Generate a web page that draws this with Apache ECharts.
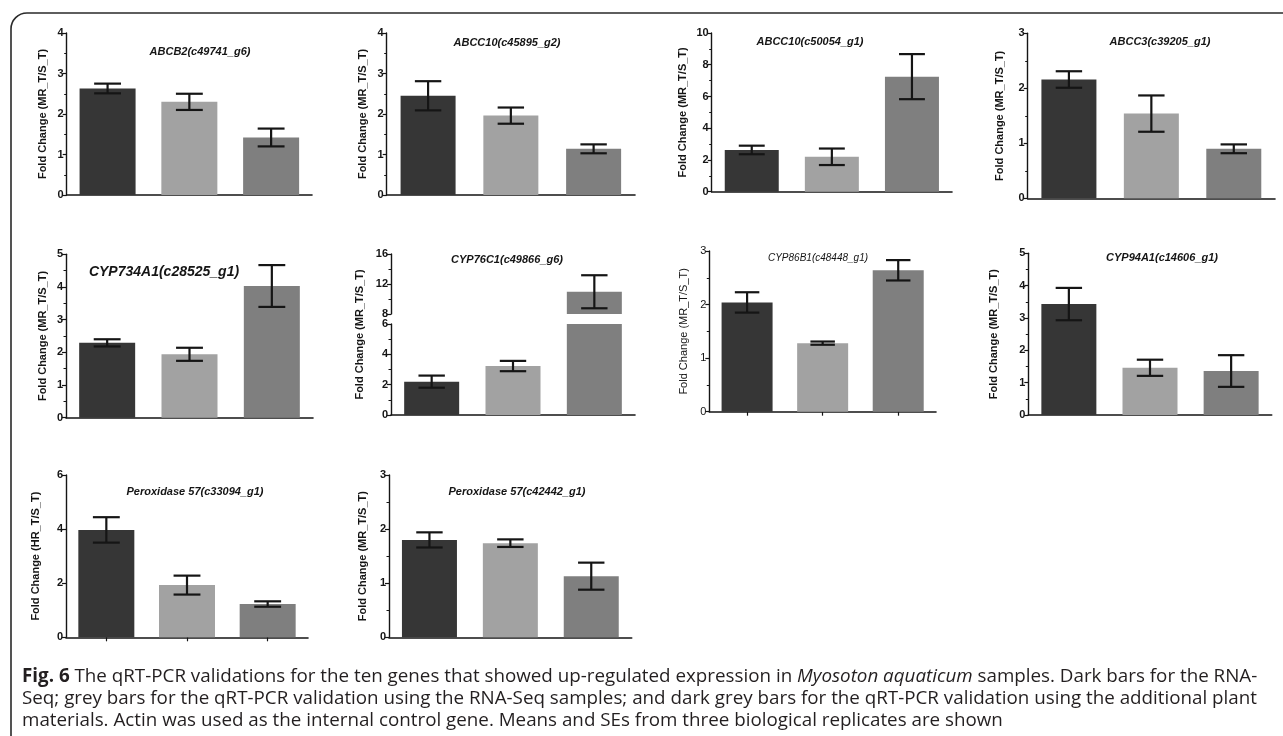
<!DOCTYPE html>
<html><head><meta charset="utf-8">
<script src="https://cdn.jsdelivr.net/npm/echarts@6.0.0/dist/echarts.min.js"></script>
<style>html,body{margin:0;padding:0;background:#fff}#c{width:1283px;height:736px}</style>
</head><body><div id="c"></div>
<script>
// ---------- DATA ----------
const genes = ['ABCB2(c49741_g6)','ABCC10(c45895_g2)','ABCC10(c50054_g1)','ABCC3(c39205_g1)',
  'CYP734A1(c28525_g1)','CYP76C1(c49866_g6)','CYP86B1(c48448_g1)','CYP94A1(c14606_g1)',
  'Peroxidase 57(c33094_g1)','Peroxidase 57(c42442_g1)'];
const categories = ['RNA-Seq','qRT-PCR (RNA-Seq samples)','qRT-PCR (additional materials)'];
const rnaSeq      = [2.63, 2.45, 2.63, 2.16, 2.29, 2.20, 2.04, 3.43, 3.97, 1.80];
const rnaSeqSE    = [0.12, 0.36, 0.27, 0.15, 0.11, 0.40, 0.19, 0.50, 0.47, 0.14];
const qpcrSame    = [2.30, 1.96, 2.20, 1.54, 1.94, 3.23, 1.28, 1.46, 1.93, 1.74];
const qpcrSameSE  = [0.20, 0.20, 0.52, 0.33, 0.20, 0.34, 0.03, 0.25, 0.35, 0.07];
const qpcrAdd     = [1.42, 1.14, 7.25, 0.90, 4.03, 10.97, 2.64, 1.36, 1.23, 1.13];
const qpcrAddSE   = [0.22, 0.11, 1.42, 0.08, 0.64, 2.20, 0.19, 0.49, 0.10, 0.25];
const yMax        = [4, 4, 10, 3, 5, 16, 3, 5, 6, 3];
const yInterval   = [1, 1, 2, 1, 1, 4, 1, 1, 2, 1];
const yNames = ['Fold Change (MR_T/S_T)','Fold Change (MR_T/S_T)','Fold Change (MR_T/S_T)','Fold Change (MR_T/S_T)',
  'Fold Change (MR_T/S_T)','Fold Change (MR_T/S_T)','Fold Change (MR_T/S_T)','Fold Change (MR_T/S_T)',
  'Fold Change (HR_T/S_T)','Fold Change (MR_T/S_T)'];
// broken axis of panel 6 (CYP76C1)
const breakLow = 6, breakHigh = 8, lowInterval = 2;
const captionLines = [
  '{b|Fig. 6} The qRT-PCR validations for the ten genes that showed up-regulated expression in {i|Myosoton aquaticum} samples. Dark bars for the RNA-',
  'Seq; grey bars for the qRT-PCR validation using the RNA-Seq samples; and dark grey bars for the qRT-PCR validation using the additional plant',
  'materials. Actin was used as the internal control gene. Means and SEs from three biological replicates are shown'
];

// ---------- LAYOUT / STYLE ----------
const barColors = ['#363636', '#a2a2a2', '#7f7f7f'];
const layout = [
  {l:66.7,  r:312,   t:33,    b:195,   bw:56, ng:18, tx:200,  ty:52,  tf:11},
  {l:386.7, r:635,   t:33,    b:195,   bw:55, ng:18, tx:507,  ty:43,  tf:11},
  {l:711.7, r:952,   t:33,    b:191.7, bw:54, ng:23, tx:810,  ty:42,  tf:11},
  {l:1027.7,r:1275,  t:33.3,  b:198.3, bw:55, ng:22, tx:1160, ty:42,  tf:11},
  {l:66,    r:313,   t:254.3, b:417.7, bw:56, ng:18, tx:164,  ty:272, tf:14},
  {l:391,   r:635,   t:254,   b:415,   bw:55, ng:26, tx:507,  ty:260, tf:11, brk:true},
  {l:709.3, r:936,   t:251,   b:411.7, bw:51, ng:20, tx:818,  ty:258, tf:10, light:true, xt:true},
  {l:1028.3,r:1271.7,t:253.3, b:415,   bw:55, ng:29, tx:1162, ty:258, tf:11},
  {l:66,    r:308,   t:475,   b:637.3, bw:56, ng:25, tx:195,  ty:492, tf:11, xt:true, noMinor:true},
  {l:389,   r:631.7, t:475,   b:637.3, bw:55, ng:21, tx:517,  ty:492, tf:11}
];
const FONT = "'Liberation Sans', Arial, sans-serif";
const INK = '#151515';

const grids = [], xAxes = [], yAxes = [], series = [], titles = [];

function errRender(cap) {
  return function (params, api) {
    const c = api.value(0), m = api.value(1), s = api.value(2);
    const pTop = api.coord([c, m + s]);
    const pBot = api.coord([c, m - s]);
    const st = {stroke: INK, lineWidth: 2.2};
    return {type:'group', children:[
      {type:'line', shape:{x1:pTop[0], y1:pTop[1], x2:pBot[0], y2:pBot[1]}, style:st},
      {type:'line', shape:{x1:pTop[0]-cap, y1:pTop[1], x2:pTop[0]+cap, y2:pTop[1]}, style:st},
      {type:'line', shape:{x1:pBot[0]-cap, y1:pBot[1], x2:pBot[0]+cap, y2:pBot[1]}, style:st}
    ]};
  };
}

function addPanel(i, top, bottom, ymin, ymax, interval, opts) {
  const L = layout[i];
  const gi = grids.length;
  grids.push({left:L.l, top:top, width:L.r - L.l, height:bottom - top, outerBoundsMode:'none', containLabel:false});
  const fw = L.light ? 'normal' : 'bold';
  xAxes.push({
    type:'category', gridIndex:gi, data:categories, show: !opts.hideX,
    axisLabel:{show:false, interval:0},
    axisTick:{show: !!L.xt, alignWithLabel:true, interval:0, length:4, lineStyle:{color:INK, width:1.2}},
    axisLine:{show:true, lineStyle:{color:INK, width:1.6}}
  });
  yAxes.push({
    type:'value', gridIndex:gi, min:ymin, max:ymax, interval:interval,
    splitLine:{show:false},
    axisLine:{show:true, onZero:false, lineStyle:{color:INK, width:1.4}},
    axisTick:{show:true, length:4, lineStyle:{color:INK, width:1.2}},
    minorTick:{show: !L.noMinor, splitNumber:2, length:2.5, lineStyle:{color:INK, width:1}},
    axisLabel:{fontSize:11, fontWeight:fw, color:INK, fontFamily:FONT, margin:3},
    name: opts.name || '', nameLocation:'middle', nameGap:L.ng,
    nameTextStyle:{fontSize:11, fontWeight:fw, color:INK, fontFamily:FONT}
  });
  const vals = [rnaSeq[i], qpcrSame[i], qpcrAdd[i]];
  const ses = [rnaSeqSE[i], qpcrSameSE[i], qpcrAddSE[i]];
  series.push({
    type:'bar', xAxisIndex:gi, yAxisIndex:gi, barWidth:L.bw, clip:true, silent:true,
    data: vals.map((v, k) => ({value:v, itemStyle:{color:barColors[k]}}))
  });
  const errData = [];
  vals.forEach((v, k) => { if (opts.keep(v)) errData.push([k, v, ses[k]]); });
  series.push({
    type:'custom', xAxisIndex:gi, yAxisIndex:gi, silent:true, clip:false,
    renderItem: errRender(L.bw * 0.24), encode:{x:0, y:1}, data: errData, z:5
  });
}

layout.forEach((L, i) => {
  if (L.brk) {
    const upBottom = L.t + (L.b - L.t) * 0.373;
    const lowTop = upBottom + 10;
    addPanel(i, L.t, upBottom, breakHigh, yMax[i], yInterval[i], {hideX:true, keep: v => v > breakLow});
    addPanel(i, lowTop, L.b, 0, breakLow, lowInterval, {keep: v => v <= breakLow});
    const gi = grids.length;
    grids.push({left:L.l, top:L.t, width:L.r - L.l, height:L.b - L.t, outerBoundsMode:'none', containLabel:false});
    xAxes.push({type:'category', gridIndex:gi, data:categories, show:false});
    yAxes.push({type:'value', gridIndex:gi, min:0, max:1, axisLine:{show:false}, axisTick:{show:false},
      axisLabel:{show:false}, splitLine:{show:false},
      name:yNames[i], nameLocation:'middle', nameGap:L.ng,
      nameTextStyle:{fontSize:11, fontWeight:'bold', color:INK, fontFamily:FONT}});
  } else {
    addPanel(i, L.t, L.b, 0, yMax[i], yInterval[i], {name:yNames[i], keep: () => true});
  }
  titles.push({
    text: genes[i], left: L.tx, top: L.ty, textAlign:'center', textVerticalAlign:'middle', padding:0,
    textStyle:{fontSize:L.tf, fontWeight: L.light ? 'normal' : 'bold', fontStyle:'italic', color:INK, fontFamily:FONT}
  });
});

const capFont = "'Open Sans', sans-serif";
const capSize = 18.8;
const graphics = [
  {type:'rect', silent:true, shape:{x:11, y:13, width:1300, height:740, r:16},
   style:{fill:'none', stroke:'#2a2a2a', lineWidth:1.6}}
];
captionLines.forEach((line, k) => {
  graphics.push({type:'text', silent:true, x:22, y:677 + k * 22,
    style:{text:line, fontSize:capSize, fontFamily:capFont, fill:'#231f20', verticalAlign:'middle', align:'left',
      rich:{
        b:{fontWeight:'bold', fontSize:capSize, fontFamily:capFont, fill:'#231f20'},
        i:{fontStyle:'italic', fontSize:capSize, fontFamily:capFont, fill:'#231f20'}
      }}});
});

const chart = echarts.init(document.getElementById('c'), null, {renderer:'canvas'});
chart.setOption({
  animation:false,
  backgroundColor:'#ffffff',
  title: titles,
  grid: grids,
  xAxis: xAxes,
  yAxis: yAxes,
  series: series,
  graphic: graphics
});
</script>
</body></html>
